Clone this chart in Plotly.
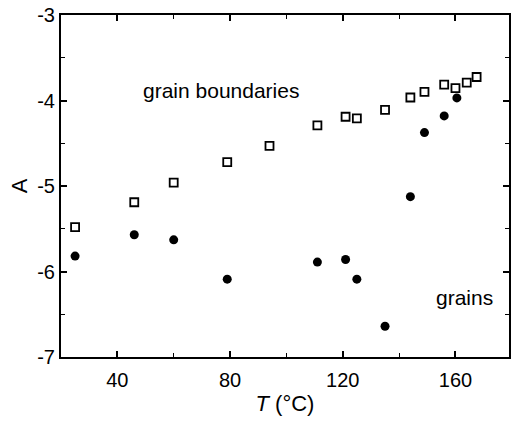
import plotly.graph_objects as go

# grain boundaries (open squares)
gb_T = [25, 46, 60, 79, 94, 111, 121, 125, 135, 144, 149, 156, 160, 164, 167.5]
gb_A = [-5.48, -5.19, -4.96, -4.72, -4.53, -4.29, -4.19, -4.21, -4.11, -3.965, -3.90, -3.815, -3.855, -3.79, -3.725]

# grains (filled circles)
g_T = [25, 46, 60, 79, 111, 121, 125, 135, 144, 149, 156, 160.5]
g_A = [-5.82, -5.57, -5.63, -6.09, -5.89, -5.86, -6.09, -6.64, -5.125, -4.375, -4.18, -3.97]

x_ticks = [40, 80, 120, 160]
y_ticks = [-7, -6, -5, -4, -3]

FONT = "Liberation Sans, Arial, Helvetica, sans-serif"

fig = go.Figure()
fig.add_trace(go.Scatter(
    x=gb_T, y=gb_A, mode="markers",
    marker=dict(symbol="square-open", size=8, color="black", line=dict(width=1.8)),
    showlegend=False))
fig.add_trace(go.Scatter(
    x=g_T, y=g_A, mode="markers",
    marker=dict(symbol="circle", size=9, color="black"),
    showlegend=False))

fig.add_annotation(x=0.357, y=-3.88, xref="paper", yref="y", xanchor="center", yanchor="middle", text="grain boundaries",
                   showarrow=False, font=dict(family=FONT, size=21, color="black"))
fig.add_annotation(x=0.9, y=-6.3, xref="paper", yref="y", xanchor="center", yanchor="middle", text="grains",
                   showarrow=False, font=dict(family=FONT, size=21, color="black"))

axis_common = dict(
    showline=True, linecolor="black", linewidth=2, mirror="ticks",
    ticks="inside", ticklen=6, tickwidth=1.5, tickcolor="black",
    showgrid=False, zeroline=False,
    tickfont=dict(family=FONT, size=20, color="black"),
)

fig.update_xaxes(range=[20, 179], tickvals=x_ticks, ticktext=[str(v) for v in x_ticks],
                 minor=dict(tickvals=[60, 100, 140], ticks="inside", ticklen=4, tickwidth=1.2, tickcolor="black"),
                 title=dict(text="<i>T</i> (°C)", font=dict(family=FONT, size=22, color="black"), standoff=6),
                 ticklabelstandoff=4,
                 **axis_common)
fig.update_yaxes(range=[-7, -3], tickvals=y_ticks, ticktext=[str(v) for v in y_ticks],
                 minor=dict(tickvals=[-6.5, -5.5, -4.5, -3.5], ticks="inside", ticklen=4, tickwidth=1.2, tickcolor="black"),
                 title=dict(text="A", font=dict(family=FONT, size=22, color="black"), standoff=4),
                 **axis_common)

fig.update_layout(
    width=513, height=422,
    margin=dict(l=61, r=2, t=15, b=65),
    paper_bgcolor="white", plot_bgcolor="white",
    font=dict(family=FONT, color="black"),
)

fig.write_html("out.html")
